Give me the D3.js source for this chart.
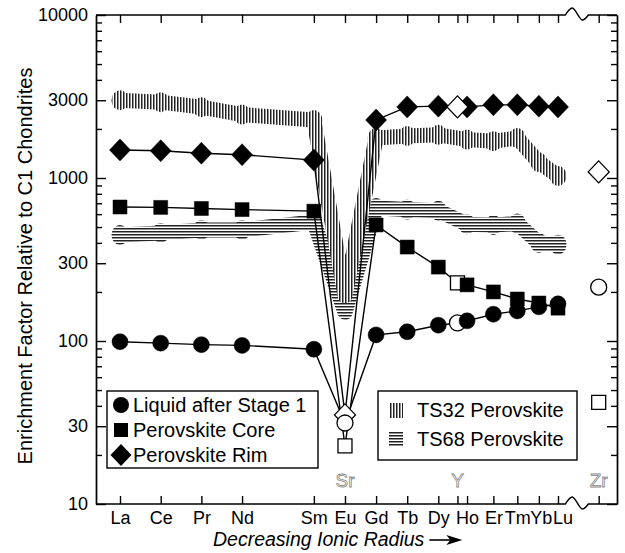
<!DOCTYPE html>
<html>
<head>
<meta charset="utf-8">
<script src="https://cdn.jsdelivr.net/npm/d3@7"></script>
<style>
  body { margin: 0; background: #fff; }
  text { font-family: "Liberation Sans", Arial, Helvetica, sans-serif; }
</style>
</head>
<body>
<div id="chart"></div>
<script>
// REE in order of decreasing ionic radius (A), the x axis is scaled on radius
var elements = ["La", "Ce", "Pr", "Nd", "Sm", "Eu", "Gd", "Tb", "Dy", "Ho", "Er", "Tm", "Yb", "Lu"];
var ionicRadius = [1.160, 1.143, 1.126, 1.109, 1.079, 1.066, 1.053, 1.040, 1.027, 1.015, 1.004, 0.994, 0.985, 0.977];

// Sr sits in the Eu column, Y by its radius, Zr after the axis break
var extraLabels = ["Sr", "Y", "Zr"];
var extraRadius = [1.066, 1.019, 0.960];

var yTicks = [10, 30, 100, 300, 1000, 3000, 10000];

// symbol series (Eu is null, the dip goes to Sr); extras = [Sr, Y, Zr]
var liquid = [99, 97, 95, 94, 89, null, 109, 114, 125, 133, 146, 153, 162, 169];
var liquidExtra = [31.4, 129, 214];
var core = [664, 660, 650, 640, 626, null, 515, 377, 284, 221, 200, 181, 171, 159];
var coreExtra = [22.7, 227, 42];
var rim = [1486, 1470, 1420, 1390, 1288, null, 2270, 2730, 2760, 2730, 2810, 2810, 2760, 2730];
var rimExtra = [35.2, 2730, 1090];

// hatched perovskite bands
var ts32 = [3000, 2920, 2720, 2450, 2270, 190, 1760, 1810, 1840, 1720, 1680, 1760, 1250, 1030];
var ts68 = [447, 460, 480, 480, 537, 150, 655, 640, 630, 520, 515, 525, 400, 390];

var svgWidth = 625;
var svgHeight = 553;
var margin = { top: 15, right: 8, bottom: 49, left: 96 };
var width = svgWidth - margin.left - margin.right;
var height = svgHeight - margin.top - margin.bottom;

var svg = d3.select("#chart")
  .append("svg")
  .attr("width", svgWidth)
  .attr("height", svgHeight)
  .style("background", "#fff");

// hatch patterns
var defs = svg.append("defs");
var vh = defs.append("pattern").attr("id", "vhatch")
  .attr("patternUnits", "userSpaceOnUse").attr("width", 3).attr("height", 6);
vh.append("rect").attr("width", 3).attr("height", 6).attr("fill", "#fff");
vh.append("rect").attr("width", 1.5).attr("height", 6).attr("fill", "#222");
var hh = defs.append("pattern").attr("id", "hhatch")
  .attr("patternUnits", "userSpaceOnUse").attr("width", 6).attr("height", 3);
hh.append("rect").attr("width", 6).attr("height", 3).attr("fill", "#fff");
hh.append("rect").attr("width", 6).attr("height", 1.5).attr("fill", "#222");

var chartGroup = svg.append("g")
  .attr("transform", `translate(${margin.left}, ${margin.top})`);

var x = d3.scaleLinear().domain([1.160, 0.977]).range([24, 462]);
var y = d3.scaleLog().domain([10, 10000]).range([height, 0]);

// bands
function drawBand(values, pat) {
  var pts = values.map((v, i) => ({ r: ionicRadius[i], v: v, el: elements[i] }));
  var g = chartGroup.append("g");
  g.append("path").datum(pts)
    .attr("d", d3.line().x(d => x(d.r)).y(d => y(d.v)))
    .attr("fill", "none")
    .attr("stroke", `url(#${pat})`)
    .attr("stroke-width", 15)
    .attr("stroke-linejoin", "round")
    .attr("stroke-linecap", "round");
  g.selectAll("ellipse").data(pts.filter(d => d.el !== "Eu")).enter()
    .append("ellipse")
    .attr("cx", d => x(d.r)).attr("cy", d => y(d.v))
    .attr("rx", 8.5).attr("ry", 10)
    .attr("fill", `url(#${pat})`);
}
drawBand(ts68, "hhatch");
drawBand(ts32, "vhatch");

// symbol series
function seriesPoints(values, extra) {
  var pts = [];
  values.forEach((v, i) => { if (v != null) pts.push({ r: ionicRadius[i], v: v, open: false }); });
  pts.push({ r: extraRadius[0], v: extra[0], open: true });
  pts.push({ r: extraRadius[1], v: extra[1], open: true });
  pts.sort((a, b) => b.r - a.r);
  return pts;
}

var series = [
  { name: "rim", pts: seriesPoints(rim, rimExtra), zr: rimExtra[2] },
  { name: "core", pts: seriesPoints(core, coreExtra), zr: coreExtra[2] },
  { name: "liquid", pts: seriesPoints(liquid, liquidExtra), zr: liquidExtra[2] }
];

var shapes = {
  liquid: d3.symbol(d3.symbolCircle, Math.PI * 64)(),
  core: d3.symbol(d3.symbolSquare, 196)(),
  rim: "M0,-11L10.5,0L0,11L-10.5,0Z"
};

series.forEach(function(s) {
  chartGroup.append("path").datum(s.pts)
    .attr("d", d3.line().x(d => x(d.r)).y(d => y(d.v)))
    .attr("fill", "none")
    .attr("stroke", "#000")
    .attr("stroke-width", 1.4);
});

series.forEach(function(s) {
  var all = s.pts.concat([{ r: extraRadius[2], v: s.zr, open: true }]);
  // open diamonds sit on top, other open symbols under the filled ones
  all.sort((a, b) => s.name === "rim" ? (a.open ? 1 : 0) - (b.open ? 1 : 0) : (b.open ? 1 : 0) - (a.open ? 1 : 0));
  chartGroup.append("g").selectAll("path").data(all).enter()
    .append("path")
    .attr("d", shapes[s.name])
    .attr("transform", d => `translate(${x(d.r)},${y(d.v)})`)
    .attr("fill", d => d.open ? "#fff" : "#000")
    .attr("stroke", "#000")
    .attr("stroke-width", d => d.open ? 1.3 : 0.5);
});

// y axes (ticks pointing in)
var minorTicks = [];
[10, 100, 1000].forEach(function(dec) {
  [2, 4, 5, 6, 7, 8, 9].forEach(m => minorTicks.push(dec * m));
});

function styleAxis(g) {
  g.selectAll("path, line").attr("stroke", "#000").attr("stroke-width", 1.4);
  g.selectAll("text").attr("font-size", 18).attr("font-family", "Liberation Sans, Arial, sans-serif").attr("fill", "#000");
}

chartGroup.append("g")
  .call(d3.axisLeft(y).tickValues(yTicks).tickSize(-10).tickSizeOuter(0).tickPadding(8).tickFormat(d3.format("d")))
  .call(styleAxis);
chartGroup.append("g")
  .call(d3.axisLeft(y).tickValues(minorTicks).tickSize(-6).tickSizeOuter(0).tickFormat(""))
  .call(styleAxis);
chartGroup.append("g")
  .attr("transform", `translate(${width},0)`)
  .call(d3.axisRight(y).tickValues(yTicks).tickSize(-10).tickSizeOuter(0).tickFormat(""))
  .call(styleAxis);
chartGroup.append("g")
  .attr("transform", `translate(${width},0)`)
  .call(d3.axisRight(y).tickValues(minorTicks).tickSize(-6).tickSizeOuter(0).tickFormat(""))
  .call(styleAxis);

// x axes with a break between Lu and Zr
var tickRadii = ionicRadius.concat([extraRadius[1], extraRadius[2]]);
var bottomAxis = chartGroup.append("g")
  .attr("transform", `translate(0,${height})`)
  .call(d3.axisBottom(x).tickValues(ionicRadius).tickSize(-8).tickPadding(7)
    .tickFormat((d, i) => elements[i]))
  .call(styleAxis);
bottomAxis.select(".domain").remove();
// crowded heavy-REE labels nudged right a little, as in the original
bottomAxis.selectAll(".tick text")
  .attr("dx", (d, i) => elements[i] === "Yb" ? 2 : elements[i] === "Lu" ? 4.5 : 0);
var bottomExtra = chartGroup.append("g")
  .attr("transform", `translate(0,${height})`)
  .call(d3.axisBottom(x).tickValues(extraRadius.slice(1)).tickSize(-8).tickFormat(""))
  .call(styleAxis);
bottomExtra.select(".domain").remove();
var topAxis = chartGroup.append("g")
  .call(d3.axisTop(x).tickValues(tickRadii).tickSize(-8).tickFormat(""))
  .call(styleAxis);
topAxis.select(".domain").remove();

var xb = (x(ionicRadius[ionicRadius.length - 1]) + x(extraRadius[2])) / 2;
var breakLine = d3.line().curve(d3.curveCatmullRom);
[0, height].forEach(function(yy) {
  chartGroup.append("path")
    .attr("d", d3.line()([[0, yy], [xb - 13, yy]]) + breakLine([[xb - 13, yy], [xb - 6, yy - 7], [xb + 4, yy + 5], [xb + 10, yy]]).replace("M", "L") + d3.line()([[xb + 10, yy], [width, yy]]).replace("M", "L"))
    .attr("fill", "none").attr("stroke", "#000").attr("stroke-width", 1.4);
});

// hollow Sr / Y / Zr labels
chartGroup.append("g").selectAll("text").data(extraLabels).enter()
  .append("text")
  .attr("x", (d, i) => x(extraRadius[i]))
  .attr("y", height - 17)
  .attr("text-anchor", "middle")
  .attr("font-size", 19)
  .attr("fill", "#fff")
  .attr("stroke", "#888")
  .attr("stroke-width", 0.8)
  .text(d => d);

// axis titles
svg.append("text")
  .attr("transform", "rotate(-90)")
  .attr("x", -266)
  .attr("y", 32)
  .attr("text-anchor", "middle")
  .attr("font-size", 20)
  .text("Enrichment Factor Relative to C1 Chondrites");

var xTitle = svg.append("text")
  .attr("x", 213)
  .attr("y", 546)
  .attr("font-size", 19.5)
  .attr("font-style", "italic")
  .text("Decreasing Ionic Radius");
var tEnd = 213 + xTitle.node().getComputedTextLength();
svg.append("line")
  .attr("x1", tEnd + 5).attr("x2", tEnd + 28)
  .attr("y1", 540).attr("y2", 540)
  .attr("stroke", "#000").attr("stroke-width", 1.6);
svg.append("path")
  .attr("d", `M${tEnd + 38},540L${tEnd + 22},535L${tEnd + 26},540L${tEnd + 22},545Z`)
  .attr("fill", "#000");

// legend 1: symbols
var leg1 = svg.append("g");
leg1.append("rect")
  .attr("x", 107).attr("y", 391).attr("width", 211).attr("height", 77)
  .attr("fill", "#fff").attr("stroke", "#000").attr("stroke-width", 1.4);
var leg1Items = [
  { name: "liquid", label: "Liquid after Stage 1" },
  { name: "core", label: "Perovskite Core" },
  { name: "rim", label: "Perovskite Rim" }
];
leg1Items.forEach(function(d, i) {
  var cy = 405 + i * 25;
  leg1.append("path").attr("d", shapes[d.name])
    .attr("transform", `translate(121,${cy})`)
    .attr("fill", "#000");
  leg1.append("text").attr("x", 133).attr("y", cy + 7)
    .attr("font-size", 20).text(d.label);
});

// legend 2: bands
var leg2 = svg.append("g");
leg2.append("rect")
  .attr("x", 378).attr("y", 391).attr("width", 199).attr("height", 69)
  .attr("fill", "#fff").attr("stroke", "#000").attr("stroke-width", 1.4);
var leg2Items = [
  { pat: "vhatch", label: "TS32 Perovskite" },
  { pat: "hhatch", label: "TS68 Perovskite" }
];
leg2Items.forEach(function(d, i) {
  var cy = 410 + i * 29;
  leg2.append("rect").attr("x", 389).attr("y", cy - 7).attr("width", 14).attr("height", 15)
    .attr("fill", `url(#${d.pat})`);
  leg2.append("text").attr("x", 417).attr("y", cy + 7)
    .attr("font-size", 20).text(d.label);
});
</script>
</body>
</html>
